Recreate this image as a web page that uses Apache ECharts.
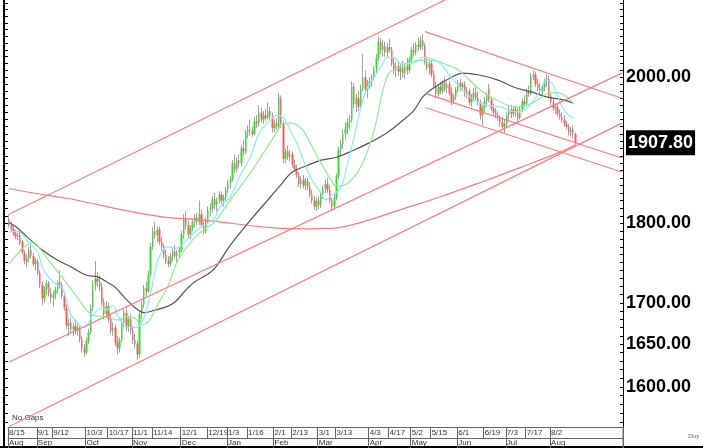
<!DOCTYPE html>
<html><head><meta charset="utf-8">
<script src="https://cdn.jsdelivr.net/npm/echarts@6/dist/echarts.min.js"></script>
<style>html,body{margin:0;padding:0;background:#fff}#c{width:703px;height:448px}</style>
</head><body><div id="c"></div>
<script>
// ---------- data ----------
const holidays = ['2022-12-26','2023-01-02','2023-04-07','2023-05-01','2023-05-29','2023-07-04','2023-08-01'];
const firstDate = '2022-08-15';
const axisSlots = 278; // trading days on axis (data + projection space)

const opens = [1806,1798,1793,1788,1783,1785,1776,1762,1750,1755,1766,1758,1748,1751,1737,1722,1705,1716,1724,1712,
1706,1710,1716,1726,1722,1708,1694,1672,1676,1668,1672,1666,1670,1656,1645,1640,1654,1664,1694,1722,
1730,1726,1720,1700,1686,1696,1680,1666,1670,1652,1645,1655,1676,1688,1670,1680,1666,1655,1650,1638,
1686,1698,1718,1714,1735,1770,1790,1785,1792,1776,1770,1760,1752,1748,1758,1764,1758,1762,1766,1786,
1806,1798,1786,1794,1802,1808,1802,1812,1798,1790,1804,1818,1820,1832,1824,1830,1838,1830,1834,1844,
1854,1858,1880,1872,1884,1880,1900,1896,1922,1926,1924,1920,1938,1934,1950,1940,1946,1942,1952,1944,
1928,1935,1930,1970,1934,1886,1896,1888,1892,1878,1872,1864,1852,1858,1850,1856,1848,1838,1830,1822,
1830,1824,1838,1846,1852,1844,1830,1822,1834,1862,1898,1906,1920,1928,1936,1940,1986,1962,1970,1958,
1984,2000,1982,1990,1994,2000,2012,2028,2052,2040,2046,2036,2044,2040,2020,2010,2016,2008,2014,2006,
2016,2010,2026,2040,2036,2048,2044,2054,2046,2022,2014,2020,2004,1988,1976,1986,1980,1992,1984,1990,
1978,1966,1972,1982,1992,1986,1990,1976,1980,1964,1972,1978,1970,1964,1946,1956,1966,1984,1968,1956,
1950,1946,1942,1936,1930,1934,1946,1954,1948,1954,1950,1942,1954,1966,1962,1980,1976,2002,2004,1990,
1984,1980,1986,1994,1998,1974,1964,1956,1958,1948,1944,1940,1934,1930,1922,1926,1920];
const highs = [1812,1803,1797,1792,1788,1789,1779,1766,1760,1770,1772,1762,1756,1754,1740,1726,1720,1728,1727,1718,
1715,1720,1728,1740,1725,1712,1698,1680,1682,1676,1678,1675,1673,1660,1650,1658,1668,1698,1728,1752,
1738,1734,1724,1706,1702,1700,1686,1676,1674,1660,1658,1680,1692,1694,1684,1686,1672,1662,1654,1690,
1702,1722,1726,1740,1775,1795,1802,1796,1796,1782,1774,1766,1758,1762,1768,1772,1766,1770,1790,1812,
1816,1804,1798,1806,1812,1814,1830,1818,1802,1808,1822,1826,1836,1840,1834,1842,1842,1838,1848,1858,
1862,1884,1892,1888,1892,1904,1912,1926,1932,1940,1930,1944,1946,1960,1956,1952,1955,1964,1958,1950,
1940,1942,1978,1974,1938,1900,1904,1898,1896,1884,1878,1868,1862,1864,1860,1860,1854,1844,1836,1834,
1836,1842,1850,1858,1860,1850,1834,1838,1866,1902,1912,1926,1936,1942,1946,1994,1992,1976,1980,1990,
2034,2010,1996,2000,2004,2016,2034,2060,2058,2054,2052,2050,2056,2044,2028,2022,2024,2020,2024,2020,
2028,2030,2044,2050,2052,2058,2060,2064,2050,2030,2026,2024,2010,1994,1990,1994,1996,2000,1994,1994,
1986,1976,1986,1996,1998,1994,1994,1986,1984,1976,1984,1986,1980,1968,1960,1972,1978,1990,1972,1962,
1956,1952,1946,1944,1940,1950,1960,1960,1958,1960,1956,1958,1970,1974,1984,1988,2006,2010,2008,1998,
1992,1990,1998,2004,2002,1978,1970,1962,1962,1954,1950,1946,1938,1934,1930,1932,1922];
const lows = [1795,1790,1784,1780,1778,1772,1760,1748,1744,1750,1755,1745,1740,1734,1718,1697,1700,1710,1708,1700,
1695,1704,1712,1718,1705,1690,1668,1660,1664,1660,1662,1660,1652,1640,1635,1637,1650,1662,1690,1715,
1720,1715,1696,1680,1682,1676,1662,1660,1648,1638,1640,1652,1670,1666,1665,1662,1650,1645,1632,1634,
1680,1694,1708,1712,1732,1766,1780,1776,1772,1765,1755,1748,1744,1745,1752,1755,1750,1756,1763,1780,
1792,1782,1780,1790,1795,1798,1798,1795,1786,1787,1800,1810,1814,1818,1816,1826,1825,1822,1830,1840,
1846,1855,1866,1868,1874,1876,1890,1892,1914,1918,1916,1918,1928,1930,1936,1934,1938,1940,1940,1922,
1922,1925,1926,1928,1880,1880,1884,1882,1874,1868,1860,1848,1846,1846,1844,1844,1834,1826,1818,1816,
1818,1820,1832,1840,1840,1826,1816,1818,1830,1858,1890,1900,1912,1920,1926,1936,1956,1950,1952,1954,
1980,1976,1970,1984,1986,1996,2006,2024,2034,2030,2030,2028,2036,2016,2004,2000,2002,1996,2000,1998,
2004,2006,2020,2030,2032,2038,2040,2040,2018,2010,2004,2000,1984,1970,1972,1976,1976,1980,1978,1974,
1960,1962,1968,1978,1980,1980,1972,1970,1960,1958,1966,1966,1960,1940,1932,1950,1958,1964,1952,1946,
1942,1938,1930,1926,1921,1930,1940,1942,1944,1944,1936,1940,1950,1958,1960,1972,1974,1996,1986,1980,
1976,1974,1980,1986,1970,1960,1952,1948,1944,1940,1936,1930,1926,1918,1916,1914,1905];
const closes = [1798,1793,1787,1783,1785,1775,1763,1752,1756,1765,1758,1748,1752,1737,1722,1705,1716,1724,1712,1706,
1710,1716,1725,1722,1708,1694,1672,1676,1668,1672,1666,1670,1656,1645,1640,1654,1664,1694,1722,1730,
1726,1720,1700,1686,1696,1680,1666,1670,1652,1645,1655,1676,1688,1670,1680,1666,1655,1650,1638,1686,
1698,1718,1714,1735,1770,1790,1785,1792,1776,1770,1760,1752,1748,1758,1764,1758,1762,1766,1786,1806,
1798,1786,1794,1802,1808,1802,1812,1798,1790,1804,1818,1820,1832,1824,1830,1838,1830,1834,1844,1854,
1858,1880,1872,1884,1880,1900,1896,1922,1926,1924,1920,1938,1934,1950,1940,1946,1942,1952,1944,1928,
1935,1930,1972,1934,1886,1896,1888,1892,1878,1872,1864,1852,1858,1850,1856,1848,1838,1830,1822,1830,
1824,1838,1846,1852,1844,1830,1822,1834,1862,1898,1906,1920,1928,1936,1940,1986,1962,1970,1958,1984,
2000,1982,1990,1994,2000,2012,2028,2052,2040,2046,2036,2044,2040,2020,2010,2016,2008,2014,2006,2016,
2010,2026,2040,2036,2048,2044,2054,2046,2022,2014,2020,2004,1988,1976,1986,1980,1992,1984,1990,1978,
1966,1972,1982,1992,1986,1990,1976,1980,1964,1972,1978,1970,1964,1946,1956,1966,1974,1968,1956,1950,
1946,1942,1936,1930,1934,1946,1954,1948,1954,1950,1942,1954,1966,1962,1980,1976,2002,2004,1990,1984,
1980,1986,1994,1998,1974,1964,1956,1958,1948,1944,1940,1934,1930,1922,1926,1920,1907.8];

// moving averages: [trading-day index, price]
const maShort = [[0,1789],[3,1790],[5,1789],[9,1775],[13,1763],[15,1744],[18,1731],[22,1721],[24,1719],[26,1703],[28,1685],[31,1676],[33,1670],[35,1671],[37,1682],[40,1691],[42,1694],[44,1691],[47,1697],[49,1685],[52,1673],[56,1670],[58,1670],[61,1682],[63,1701],[65,1725],[67,1751],[70,1768],[72,1770],[75,1768],[78,1772],[81,1781],[84,1789],[87,1796],[90,1801],[93,1807],[95,1821],[100,1835],[104,1861],[109,1888],[113,1921],[118,1939],[121,1946],[124,1943],[127,1925],[130,1908],[133,1884],[137,1857],[141,1840],[143,1831],[145,1835],[150,1848],[153,1880],[156,1916],[159,1957],[162,1986],[165,2000],[168,2015],[171,2029],[174,2029],[177,2020],[180,2020],[184,2022],[187,2029],[190,2028],[195,2020],[199,2003],[204,1985],[210,1968],[216,1960],[222,1958],[228,1951],[231,1951],[234,1956],[239,1975],[243,1996],[246,1989],[249,1964],[252,1949],[255,1942]];
const maMid = [[0,1748],[4,1762],[7,1770],[11,1776],[13,1771],[17,1756],[22,1738],[26,1724],[31,1706],[35,1691],[38,1685],[44,1683],[49,1679],[53,1683],[57,1681],[60,1673],[63,1677],[67,1697],[72,1722],[76,1751],[81,1772],[85,1785],[90,1796],[93,1802],[100,1831],[106,1854],[112,1880],[118,1908],[121,1922],[124,1935],[127,1935],[132,1928],[136,1908],[141,1880],[145,1860],[148,1849],[153,1853],[159,1875],[165,1925],[169,1982],[172,2007],[177,2015],[181,2021],[186,2025],[190,2025],[195,2022],[198,2018],[203,2011],[210,1990],[216,1975],[222,1965],[228,1958],[234,1960],[239,1968],[243,1976],[248,1978],[252,1972],[255,1963]];
const maLong = [[0,1801],[3,1796],[8,1783],[15,1766],[22,1753],[29,1743],[35,1734],[40,1732],[44,1726],[48,1719],[52,1707],[57,1694],[61,1688],[66,1691],[71,1695],[75,1701],[80,1716],[84,1726],[89,1734],[93,1743],[100,1772],[109,1804],[117,1831],[122,1848],[128,1868],[135,1877],[141,1884],[148,1888],[156,1898],[163,1908],[171,1922],[178,1939],[183,1953],[187,1972],[192,1985],[200,2000],[205,2006],[213,2003],[221,1996],[228,1986],[236,1979],[243,1972],[250,1968],[255,1963]];
const maVeryLong = [[0,1846],[11,1840],[26,1833],[41,1824],[56,1815],[71,1808],[86,1805],[101,1800],[117,1795],[132,1793],[147,1794],[162,1804],[177,1818],[195,1835],[213,1854],[231,1874],[249,1895],[256,1905]];

// channel / trend lines: [trading-day index, price]
const trendUp1 = [[0,1812],[197,2114.6]];
const trendUp2 = [[0,1629],[277,2006]];
const trendUp3 = [[0,1555],[277,1935]];
const trendDn1 = [[188,2067],[277,1970]];
const trendDn2 = [[188,1977],[277,1887]];
const trendDn3 = [[188,1957],[277,1868]];

// tick labels
const yTickValues = [1600, 1650, 1700, 1800, 2000];
const lastPrice = 1907.80;
const dayLabelDates = ['2022-08-15','2022-09-01','2022-09-12','2022-10-03','2022-10-17','2022-11-01','2022-11-14','2022-12-01','2022-12-19','2023-01-03','2023-01-16','2023-02-01','2023-02-13','2023-03-01','2023-03-13','2023-04-03','2023-04-17','2023-05-02','2023-05-15','2023-06-01','2023-06-19','2023-07-03','2023-07-17','2023-08-02'];
const dayLabels = ['8/15','9/1','9/12','10/3','10/17','11/1','11/14','12/1','12/19','1/3','1/16','2/1','2/13','3/1','3/13','4/3','4/17','5/2','5/15','6/1','6/19','7/3','7/17','8/2'];
const monthLabelDates = ['2022-08-15','2022-09-01','2022-10-03','2022-11-01','2022-12-01','2023-01-03','2023-02-01','2023-03-01','2023-04-03','2023-05-02','2023-06-01','2023-07-03','2023-08-02'];
const monthLabels = ['Aug','Sep','Oct','Nov','Dec','Jan','Feb','Mar','Apr','May','Jun','Jul','Aug'];

// ---------- build ----------
function buildDates(){
  const out=[]; const p=firstDate.split('-').map(Number);
  const d=new Date(Date.UTC(p[0],p[1]-1,p[2]));
  while(out.length<axisSlots){
    const wd=d.getUTCDay(); const s=d.toISOString().slice(0,10);
    if(wd!==0&&wd!==6&&holidays.indexOf(s)<0) out.push(s);
    d.setUTCDate(d.getUTCDate()+1);
  }
  return out;
}
const categories = buildDates();
const dayMap = {}; dayLabelDates.forEach((d,i)=>dayMap[d]=dayLabels[i]);
const monMap = {}; monthLabelDates.forEach((d,i)=>monMap[d]=monthLabels[i]);
const fullCandles = opens.map((o,i)=>[o,closes[i],lows[i],highs[i]]);
const bodyCandles = opens.map((o,i)=>[o,closes[i],Math.min(o,closes[i]),Math.max(o,closes[i])]);
const yMin = 1554.4, yMax = 2114.6;
const minorTicks=[]; for(let v=1560; v<=2110; v+=10) minorTicks.push(v);
const labelFont = "'Liberation Sans',Arial,sans-serif";

const chart = echarts.init(document.getElementById('c'));
const lineS = (name,data,color,width)=>({type:'line',name,data,xAxisIndex:0,yAxisIndex:0,showSymbol:false,symbol:'none',silent:true,smooth:false,
  lineStyle:{color,width},z:3,animation:false});
const smoothS = (name,data,color,width)=>Object.assign(lineS(name,data,color,width),{smooth:0.35});

chart.setOption({
  animation:false,
  backgroundColor:'#fff',
  textStyle:{fontFamily:labelFont},
  grid:{left:8,right:80,top:0,bottom:21,outerBoundsMode:'none',containLabel:false},
  xAxis:[
    {type:'category',data:categories,boundaryGap:true,position:'bottom',
     axisLine:{lineStyle:{color:'#666',width:1}},
     axisTick:{show:true,interval:(i,v)=>!!dayMap[categories[i]],length:11,lineStyle:{color:'#666'}},
     axisLabel:{interval:(i,v)=>!!dayMap[categories[i]],formatter:(v)=>dayMap[v]||'',align:'left',margin:2,fontSize:8,color:'#333',hideOverlap:false},
     splitLine:{show:false}},
    {type:'category',data:categories,boundaryGap:true,position:'bottom',offset:11,
     axisLine:{lineStyle:{color:'#666',width:1}},
     axisTick:{show:true,interval:(i,v)=>!!monMap[categories[i]],length:10,lineStyle:{color:'#666'}},
     axisLabel:{interval:(i,v)=>!!monMap[categories[i]],formatter:(v)=>monMap[v]||'',align:'left',margin:1,fontSize:8,color:'#333',hideOverlap:false},
     splitLine:{show:false}}
  ],
  yAxis:[
    {type:'log',logBase:10,min:yMin,max:yMax,position:'right',
     axisLine:{show:true,lineStyle:{color:'#000',width:1}},
     axisTick:{show:true,inside:true,length:3,customValues:minorTicks,lineStyle:{color:'#000'}},
     axisLabel:{customValues:yTickValues.concat([lastPrice]),margin:3,fontSize:18,fontWeight:'bold',
       fontFamily:labelFont,color:'#000',
       formatter:(v)=>Math.abs(v-lastPrice)<0.01?'{hl|'+lastPrice.toFixed(2)+'}':Number(v).toFixed(2),
       rich:{hl:{backgroundColor:'#000',color:'#fff',fontSize:18,fontWeight:'bold',fontFamily:labelFont,padding:[4,2,3,2]}}},
     splitLine:{show:false}},
    {type:'log',logBase:10,min:yMin,max:yMax,position:'left',offset:3,
     axisLine:{show:false},
     axisTick:{show:true,inside:true,length:3,customValues:minorTicks,lineStyle:{color:'#000'}},
     axisLabel:{show:false},splitLine:{show:false}}
  ],
  series:[
    {type:'candlestick',name:'range',data:fullCandles,barWidth:1,silent:true,z:1,
     itemStyle:{color:'#a0a0a0',color0:'#a0a0a0',borderColor:'#a0a0a0',borderColor0:'#a0a0a0',borderWidth:1}},
    {type:'candlestick',name:'body',data:bodyCandles,barWidth:2,silent:true,z:2,
     itemStyle:{color:'#33dd33',color0:'#ff5a5a',borderColor:'#33dd33',borderColor0:'#ff5a5a',borderWidth:0}},
    smoothS('MA200',maVeryLong,'#ff7878',1.2),
    smoothS('MA50',maLong,'#555555',1.2),
    smoothS('MA20',maMid,'#90ee90',1.2),
    smoothS('MA10',maShort,'#8ee8ff',1.2),
    lineS('up1',trendUp1,'#ff7a7a',1.2),
    lineS('up2',trendUp2,'#ff7a7a',1.2),
    lineS('up3',trendUp3,'#ff7a7a',1.2),
    lineS('dn1',trendDn1,'#ff7a7a',1.2),
    lineS('dn2',trendDn2,'#ff7a7a',1.2),
    lineS('dn3',trendDn3,'#ff7a7a',1.2)
  ],
  graphic:[
    {type:'line',shape:{x1:4,y1:0,x2:4,y2:448},style:{stroke:'#000',lineWidth:2},silent:true},
    {type:'line',shape:{x1:0,y1:447,x2:703,y2:447},style:{stroke:'#000',lineWidth:2},silent:true},
    {type:'line',shape:{x1:623,y1:427,x2:623,y2:448},style:{stroke:'#666',lineWidth:1},silent:true},
    {type:'text',left:12,top:414,style:{text:'No Gaps',fontSize:8,fill:'#333',fontFamily:'Liberation Sans'},silent:true},
    {type:'text',left:688,top:433,style:{text:'Day',fontSize:7,fill:'#666',fontFamily:'Liberation Serif'},silent:true}
  ]
});
</script></body></html>
